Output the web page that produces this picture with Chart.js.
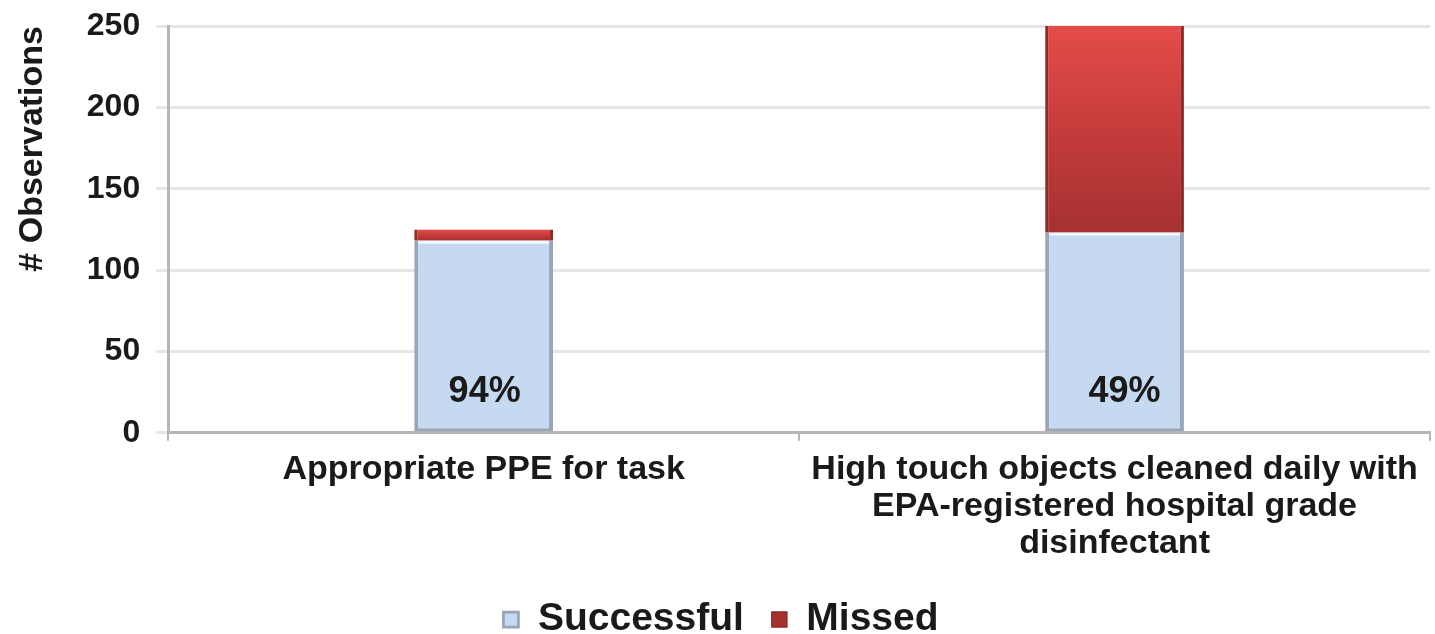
<!DOCTYPE html>
<html>
<head>
<meta charset="utf-8">
<script src="https://cdn.jsdelivr.net/npm/chart.js@4"></script>
<style>
  html, body { margin: 0; padding: 0; background: #fff; overflow: hidden; }
  #wrap { width: 1435px; height: 634px; }
</style>
</head>
<body>
<div id="wrap"><canvas id="myChart" width="1435" height="634"></canvas></div>
<script>
var categories = [
    'Appropriate PPE for task',
    ['High touch objects cleaned daily with', 'EPA-registered hospital grade', 'disinfectant']
];
var successful = [118, 123];
var missed = [7, 127];
var yTicks = [0, 50, 100, 150, 200, 250];

var FONT = '"Liberation Sans", Arial, sans-serif';

// each red segment fades darker from its top to its bottom
function redFill(context) {
    var chart = context.chart;
    var y = chart.scales.y;
    var i = context.dataIndex;
    if (!y || i === undefined) return '#c83a3a';
    var top = y.getPixelForValue(successful[i] + missed[i]);
    var bottom = y.getPixelForValue(successful[i]);
    if (!isFinite(top) || !isFinite(bottom) || top === bottom) return '#c83a3a';
    var g = chart.ctx.createLinearGradient(0, top, 0, bottom);
    g.addColorStop(0, '#e44c4a');
    g.addColorStop(0.5, '#c53c3b');
    g.addColorStop(1, '#a53131');
    return g;
}

// light rim on top of the blue bars + percent successful near their base
var barExtras = {
    id: 'barExtras',
    afterDatasetsDraw: function (chart) {
        var ctx = chart.ctx;
        var meta = chart.getDatasetMeta(0);
        var y = chart.scales.y;
        ctx.save();
        meta.data.forEach(function (bar) {
            ctx.fillStyle = 'rgba(240, 248, 255, 0.95)';
            ctx.fillRect(bar.x - bar.width / 2 + 4, bar.y, bar.width - 8, 3);
        });
        ctx.font = 'bold 36px ' + FONT;
        ctx.fillStyle = '#1a1a1a';
        ctx.textAlign = 'center';
        ctx.textBaseline = 'middle';
        meta.data.forEach(function (bar, i) {
            var pct = Math.round(successful[i] / (successful[i] + missed[i]) * 100);
            ctx.fillText(pct + '%', bar.x + 1 + i * 9, y.getPixelForValue(25));
        });
        ctx.restore();
    }
};

var ctx = document.getElementById('myChart').getContext('2d');

chart = new Chart(ctx, {
    type: 'bar',
    data: {
        labels: categories,
        datasets: [{
            label: 'Successful',
            data: successful,
            backgroundColor: '#c5d9f0',
            borderColor: '#98a6ba',
            borderWidth: {left: 4, right: 4, top: 0, bottom: 3},
            borderSkipped: false,
            barPercentage: 0.22,
            categoryPercentage: 1
        }, {
            label: 'Missed',
            data: missed,
            backgroundColor: redFill,
            borderColor: '#8e2a2a',
            borderWidth: {left: 3, right: 3, top: 0, bottom: 0},
            borderSkipped: false,
            barPercentage: 0.22,
            categoryPercentage: 1
        }]
    },
    plugins: [barExtras],
    options: {
        responsive: false,
        animation: false,
        layout: {padding: {top: 0, right: 5, left: 12, bottom: -15}},
        scales: {
            x: {
                stacked: true,
                grid: {offset: true, drawOnChartArea: false, tickLength: 8, color: '#b5b5b5', lineWidth: 2},
                border: {color: '#b5b5b5', width: 3},
                ticks: {
                    color: '#1a1a1a',
                    maxRotation: 0,
                    autoSkip: false,
                    padding: 10,
                    font: {family: FONT, size: 34, weight: 'bold', lineHeight: 1.09}
                }
            },
            y: {
                stacked: true,
                min: 0,
                max: 250,
                afterBuildTicks: function (axis) {
                    axis.ticks = yTicks.map(function (v) { return {value: v}; });
                },
                grid: {color: '#e6e6e6', lineWidth: 3, tickLength: 12},
                border: {color: '#b5b5b5', width: 3},
                ticks: {
                    color: '#1a1a1a',
                    padding: 16,
                    font: {family: FONT, size: 32, weight: 'bold', lineHeight: 0.625}
                },
                title: {
                    display: true,
                    text: '# Observations',
                    align: 'end',
                    color: '#1a1a1a',
                    padding: {top: 0, bottom: 18},
                    font: {family: FONT, size: 34, weight: 'bold'}
                }
            }
        },
        plugins: {
            legend: {
                position: 'bottom',
                labels: {
                    color: '#1a1a1a',
                    boxWidth: 15,
                    boxHeight: 15,
                    padding: 28,
                    font: {family: FONT, size: 39, weight: 'bold'}
                }
            },
            tooltip: {enabled: false}
        }
    }
});
</script>
</body>
</html>
